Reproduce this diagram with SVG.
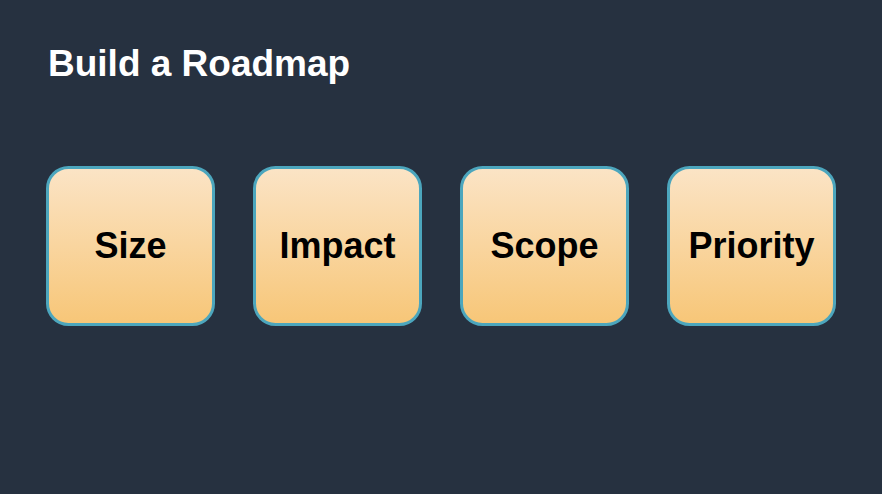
<svg xmlns="http://www.w3.org/2000/svg" width="882" height="494" viewBox="0 0 882 494">
<defs>
<linearGradient id="g" x1="0" y1="0" x2="0" y2="1">
<stop offset="0" stop-color="#fbe4c6"/>
<stop offset="1" stop-color="#f7c677"/>
</linearGradient>
<style>
.box{fill:url(#g);stroke:#4ca6bd;stroke-width:3}
.lbl{font-family:"Liberation Sans",Arial,sans-serif;font-weight:bold;font-size:36px;fill:#000;text-anchor:middle}
.title{font-family:"Liberation Sans",Arial,sans-serif;font-weight:bold;font-size:37px;fill:#fff}
</style>
</defs>
<rect width="882" height="494" fill="#263140"/>
<text class="title" x="48" y="76">Build a Roadmap</text>
<g id="size"><rect class="box" x="47.5" y="167.5" width="166" height="157" rx="21"/><text class="lbl" x="130.5" y="258">Size</text></g>
<g id="impact"><rect class="box" x="254.5" y="167.5" width="166" height="157" rx="21"/><text class="lbl" x="337.5" y="258">Impact</text></g>
<g id="scope"><rect class="box" x="461.5" y="167.5" width="166" height="157" rx="21"/><text class="lbl" x="544.5" y="258">Scope</text></g>
<g id="priority"><rect class="box" x="668.5" y="167.5" width="166" height="157" rx="21"/><text class="lbl" x="751.5" y="258">Priority</text></g>
<g id="connectors"></g>
</svg>
